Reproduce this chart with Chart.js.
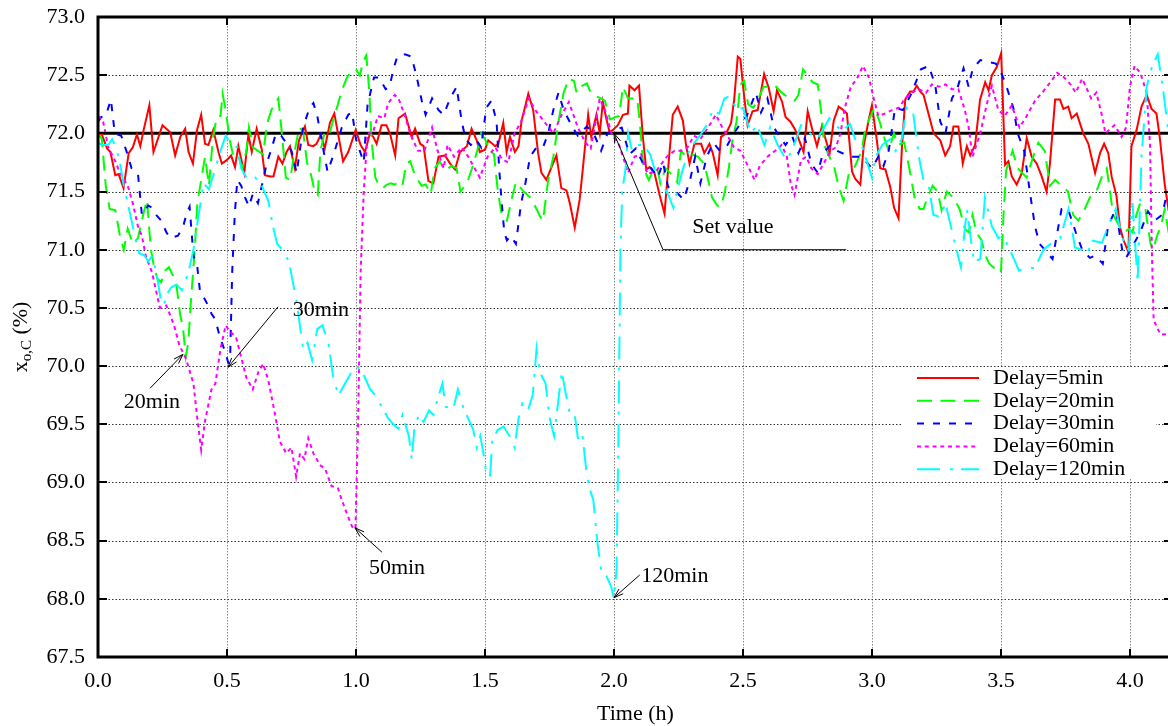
<!DOCTYPE html>
<html>
<head>
<meta charset="utf-8">
<script src="https://cdn.jsdelivr.net/npm/chart.js@4.4.0/dist/chart.umd.min.js"></script>
<style>
  html, body { margin: 0; padding: 0; background: #fff; overflow: hidden; }
  canvas { display: block; }
</style>
</head>
<body>
<canvas id="chart" width="1173" height="726"></canvas>
<script>
// Axis ticks
const xTickValues = [0.0, 0.5, 1.0, 1.5, 2.0, 2.5, 3.0, 3.5, 4.0];
const xTickLabels = ['0.0', '0.5', '1.0', '1.5', '2.0', '2.5', '3.0', '3.5', '4.0'];
const yTickValues = [67.5, 68.0, 68.5, 69.0, 69.5, 70.0, 70.5, 71.0, 71.5, 72.0, 72.5, 73.0];
const yTickLabels = ['67.5', '68.0', '68.5', '69.0', '69.5', '70.0', '70.5', '71.0', '71.5', '72.0', '72.5', '73.0'];

const seriesNames = ['Delay=5min', 'Delay=20min', 'Delay=30min', 'Delay=60min', 'Delay=120min'];
const setValue = 72.0;

// [time (h), x_o,C (%)]
const delay5 = [
[0.000,72.00],[0.015,71.99],[0.035,71.87],[0.048,71.84],[0.067,71.64],[0.080,71.65],[0.099,71.53],[0.119,71.83],[0.135,71.88],[0.151,71.99],[0.164,71.89],[0.177,72.03],[0.199,72.24],[0.215,71.84],[0.250,72.07],[0.280,72.01],[0.299,71.81],[0.319,71.97],[0.338,72.04],[0.351,71.84],[0.368,71.74],[0.384,72.03],[0.400,72.16],[0.415,71.91],[0.428,71.90],[0.447,72.03],[0.467,71.84],[0.480,71.74],[0.499,71.77],[0.516,71.81],[0.531,71.71],[0.544,71.89],[0.567,71.66],[0.583,71.99],[0.596,71.84],[0.615,72.04],[0.634,71.87],[0.647,71.64],[0.667,71.63],[0.680,71.63],[0.699,71.80],[0.715,71.74],[0.731,71.84],[0.744,71.89],[0.763,71.70],[0.779,71.94],[0.802,72.06],[0.815,71.90],[0.834,71.89],[0.847,71.91],[0.864,71.99],[0.879,71.87],[0.899,72.09],[0.916,72.17],[0.931,71.99],[0.950,71.76],[0.970,71.84],[0.999,72.03],[1.018,71.90],[1.035,71.84],[1.054,72.00],[1.067,71.97],[1.080,71.91],[1.099,72.07],[1.118,72.07],[1.133,71.99],[1.152,71.81],[1.165,72.13],[1.190,72.17],[1.216,71.97],[1.229,72.04],[1.249,71.91],[1.262,71.89],[1.281,71.59],[1.300,71.57],[1.320,71.80],[1.345,71.81],[1.365,71.74],[1.384,71.69],[1.403,71.84],[1.430,71.89],[1.448,72.04],[1.468,71.94],[1.480,71.84],[1.500,71.86],[1.513,71.94],[1.540,71.89],[1.552,71.91],[1.571,72.09],[1.584,71.84],[1.597,71.97],[1.616,71.84],[1.630,71.89],[1.642,72.11],[1.668,72.34],[1.687,72.20],[1.706,71.83],[1.719,71.66],[1.738,71.60],[1.758,71.71],[1.777,71.81],[1.796,71.53],[1.816,71.51],[1.829,71.40],[1.848,71.19],[1.867,71.43],[1.880,71.71],[1.900,72.16],[1.912,71.97],[1.932,72.16],[1.945,72.00],[1.957,72.27],[1.970,72.13],[1.983,72.01],[1.996,72.03],[2.015,72.07],[2.035,72.16],[2.054,72.17],[2.060,72.41],[2.080,72.37],[2.097,72.41],[2.112,71.97],[2.125,71.69],[2.138,71.71],[2.157,71.66],[2.177,71.47],[2.196,71.31],[2.215,71.83],[2.228,72.16],[2.247,72.23],[2.267,72.11],[2.280,71.89],[2.293,71.74],[2.312,71.91],[2.338,71.91],[2.350,71.83],[2.370,71.91],[2.383,71.83],[2.402,71.64],[2.415,71.97],[2.435,72.00],[2.454,72.09],[2.466,72.29],[2.480,72.66],[2.490,72.64],[2.505,72.31],[2.518,72.07],[2.537,72.19],[2.557,72.20],[2.582,72.51],[2.600,72.39],[2.619,72.19],[2.632,72.37],[2.652,72.27],[2.665,72.14],[2.684,72.10],[2.703,72.03],[2.723,71.91],[2.735,71.84],[2.751,72.19],[2.768,72.04],[2.787,71.89],[2.806,72.06],[2.819,71.96],[2.836,71.83],[2.852,72.11],[2.871,72.23],[2.884,72.21],[2.903,72.17],[2.923,71.67],[2.935,71.61],[2.955,71.56],[2.968,71.89],[2.987,72.11],[3.000,72.24],[3.019,71.94],[3.032,71.70],[3.052,71.69],[3.071,71.54],[3.086,71.36],[3.103,71.27],[3.116,71.87],[3.129,72.29],[3.148,72.36],[3.161,72.36],[3.174,72.41],[3.187,72.36],[3.200,72.33],[3.219,72.17],[3.239,72.00],[3.265,71.94],[3.284,71.81],[3.303,71.89],[3.316,72.06],[3.335,72.06],[3.352,71.74],[3.368,71.89],[3.381,71.81],[3.400,71.90],[3.419,72.29],[3.439,72.44],[3.452,72.37],[3.465,72.50],[3.484,72.57],[3.501,72.69],[3.516,71.73],[3.529,71.76],[3.542,71.63],[3.561,71.56],[3.581,71.66],[3.600,71.96],[3.619,71.80],[3.639,71.74],[3.658,71.63],[3.677,71.50],[3.690,71.74],[3.710,72.29],[3.729,72.29],[3.742,72.21],[3.761,72.23],[3.774,72.13],[3.794,72.17],[3.819,72.00],[3.839,71.91],[3.865,71.66],[3.884,71.83],[3.900,71.91],[3.916,71.83],[3.929,71.63],[3.948,71.46],[3.961,71.20],[3.974,71.09],[3.994,70.98],[4.006,71.89],[4.026,72.03],[4.045,72.23],[4.065,72.33],[4.084,72.21],[4.103,72.17],[4.116,71.96],[4.135,71.56],[4.150,71.34],[4.167,71.25]
];

const delay20 = [
[0.000,72.00],[0.015,71.95],[0.030,71.55],[0.045,71.35],[0.067,71.34],[0.085,71.12],[0.100,71.00],[0.115,71.18],[0.135,71.05],[0.155,71.10],[0.175,71.30],[0.190,71.43],[0.205,71.00],[0.215,70.88],[0.230,70.75],[0.245,70.72],[0.260,70.82],[0.275,70.85],[0.290,70.78],[0.305,70.68],[0.318,70.45],[0.330,70.32],[0.340,70.08],[0.350,70.20],[0.360,70.55],[0.375,71.00],[0.385,71.40],[0.400,71.60],[0.415,71.80],[0.430,71.55],[0.445,71.95],[0.460,72.14],[0.475,72.15],[0.483,72.34],[0.495,72.20],[0.510,71.95],[0.525,71.80],[0.545,71.80],[0.560,71.70],[0.575,71.85],[0.585,72.05],[0.600,71.88],[0.620,71.85],[0.640,71.82],[0.655,72.08],[0.672,72.20],[0.690,72.27],[0.699,72.30],[0.715,71.95],[0.728,71.62],[0.745,71.60],[0.760,71.82],[0.780,72.05],[0.795,72.02],[0.810,71.75],[0.825,71.65],[0.840,71.50],[0.852,71.47],[0.862,71.85],[0.878,72.00],[0.895,71.98],[0.915,72.14],[0.930,72.25],[0.945,72.37],[0.965,72.48],[0.985,72.54],[1.000,72.55],[1.015,72.50],[1.028,72.62],[1.040,72.67],[1.052,72.35],[1.060,71.95],[1.075,71.62],[1.090,71.55],[1.105,71.53],[1.120,71.56],[1.135,71.57],[1.150,71.56],[1.165,71.58],[1.180,71.55],[1.195,71.74],[1.210,71.76],[1.230,71.63],[1.255,71.55],[1.270,71.56],[1.290,71.48],[1.305,71.70],[1.325,71.76],[1.345,71.68],[1.370,71.72],[1.390,71.70],[1.405,71.50],[1.430,71.57],[1.450,71.70],[1.470,71.85],[1.485,72.00],[1.500,71.95],[1.520,71.85],[1.535,71.82],[1.550,71.50],[1.565,71.30],[1.585,71.25],[1.605,71.45],[1.620,71.58],[1.650,71.50],[1.675,71.45],[1.700,71.35],[1.715,71.28],[1.725,71.25],[1.745,71.60],[1.765,71.80],[1.785,72.10],[1.805,72.35],[1.825,72.47],[1.845,72.45],[1.855,72.35],[1.870,72.40],[1.895,72.43],[1.910,72.35],[1.930,72.32],[1.950,72.30],[1.965,72.28],[1.985,72.12],[2.005,72.14],[2.020,72.15],[2.035,72.40],[2.055,72.30],[2.075,72.30],[2.090,72.30],[2.100,72.10],[2.115,71.70],[2.135,71.60],[2.155,71.70],[2.170,71.68],[2.180,71.57],[2.200,71.70],[2.230,71.63],[2.245,71.58],[2.260,71.85],[2.280,71.80],[2.300,71.82],[2.325,71.80],[2.345,71.75],[2.360,71.65],[2.380,71.45],[2.400,71.38],[2.415,71.37],[2.430,71.50],[2.445,71.70],[2.460,71.95],[2.475,72.10],[2.490,72.42],[2.505,72.45],[2.520,72.25],[2.540,72.22],[2.560,72.30],[2.580,72.40],[2.600,72.40],[2.625,72.41],[2.650,72.35],[2.680,72.30],[2.700,72.28],[2.715,72.33],[2.733,72.55],[2.750,72.50],[2.770,72.44],[2.790,72.42],[2.805,72.15],[2.815,71.90],[2.835,71.80],[2.855,71.70],[2.870,71.55],[2.890,71.42],[2.910,71.65],[2.935,71.72],[2.960,71.85],[2.975,72.05],[2.995,72.15],[3.010,72.22],[3.030,72.10],[3.045,71.98],[3.065,71.85],[3.085,72.00],[3.100,71.90],[3.125,71.92],[3.145,71.70],[3.165,71.45],[3.185,71.35],[3.200,71.35],[3.215,71.45],[3.235,71.55],[3.255,71.50],[3.270,71.34],[3.290,71.50],[3.315,71.45],[3.340,71.35],[3.360,71.18],[3.375,71.15],[3.390,71.30],[3.405,71.15],[3.425,71.08],[3.440,70.95],[3.455,70.88],[3.470,70.85],[3.490,70.82],[3.500,70.80],[3.510,71.30],[3.520,71.68],[3.545,71.85],[3.565,71.70],[3.600,71.62],[3.625,71.80],[3.645,71.92],[3.670,71.85],[3.690,71.55],[3.710,71.60],[3.735,71.55],[3.760,71.50],[3.780,71.30],[3.800,71.25],[3.825,71.35],[3.845,71.45],[3.870,71.50],[3.895,71.65],[3.910,71.70],[3.920,71.55],[3.935,71.30],[3.960,71.20],[3.980,71.15],[3.995,71.18],[4.010,71.15],[4.025,71.30],[4.040,71.40],[4.060,71.35],[4.080,71.05],[4.090,71.00],[4.105,71.12],[4.120,71.20],[4.135,71.35],[4.150,71.15],[4.167,71.10]
];

const delay30 = [
[0.000,72.10],[0.012,72.14],[0.030,72.15],[0.050,72.29],[0.065,72.00],[0.090,71.98],[0.110,71.85],[0.130,71.70],[0.155,71.65],[0.170,71.30],[0.195,71.38],[0.210,71.36],[0.225,71.30],[0.245,71.25],[0.265,71.15],[0.280,71.10],[0.310,71.12],[0.330,71.20],[0.345,71.32],[0.355,71.37],[0.370,70.95],[0.385,70.85],[0.395,70.65],[0.420,70.55],[0.440,70.45],[0.455,70.40],[0.470,70.27],[0.490,70.14],[0.505,70.03],[0.512,70.05],[0.520,70.80],[0.530,71.30],[0.540,71.60],[0.555,71.55],[0.570,71.45],[0.585,71.37],[0.600,71.48],[0.620,71.40],[0.635,71.55],[0.655,71.75],[0.670,71.85],[0.690,72.00],[0.710,71.98],[0.735,71.90],[0.750,71.85],[0.770,71.66],[0.795,72.05],[0.820,72.22],[0.835,72.26],[0.850,72.15],[0.870,71.90],[0.890,71.67],[0.915,71.83],[0.945,72.05],[0.970,72.16],[0.985,72.18],[1.000,71.95],[1.015,71.85],[1.030,71.75],[1.045,72.25],[1.070,72.48],[1.090,72.48],[1.115,72.38],[1.130,72.40],[1.145,72.55],[1.160,72.66],[1.190,72.68],[1.215,72.66],[1.235,72.49],[1.255,72.28],[1.270,72.16],[1.295,72.30],[1.320,72.20],[1.340,72.16],[1.365,72.30],[1.390,72.40],[1.410,72.10],[1.425,71.95],[1.445,71.90],[1.465,71.95],[1.485,71.88],[1.505,72.22],[1.525,72.28],[1.545,72.10],[1.555,71.70],[1.565,71.40],[1.575,71.15],[1.585,71.08],[1.600,71.12],[1.620,71.05],[1.640,71.40],[1.655,71.55],[1.675,71.80],[1.700,71.88],[1.725,71.88],[1.745,72.00],[1.765,72.20],[1.785,72.35],[1.805,72.20],[1.840,72.05],[1.860,71.98],[1.895,72.06],[1.925,71.98],[1.950,71.85],[1.975,72.00],[1.995,72.02],[2.030,72.05],[2.060,71.82],[2.085,71.87],[2.115,71.73],[2.145,71.70],[2.170,71.62],[2.190,71.75],[2.210,71.54],[2.240,71.50],[2.270,71.43],[2.295,71.60],[2.315,71.80],[2.335,71.57],[2.360,71.80],[2.385,71.92],[2.410,71.85],[2.440,71.90],[2.465,72.00],[2.495,72.10],[2.515,72.15],[2.550,72.35],[2.570,72.18],[2.595,72.30],[2.620,72.05],[2.640,71.98],[2.665,71.90],[2.690,71.98],[2.715,71.83],[2.740,71.96],[2.765,71.74],[2.790,71.66],[2.810,71.83],[2.840,71.90],[2.865,71.85],[2.895,71.82],[2.925,71.80],[2.960,71.80],[3.000,71.70],[3.025,71.80],[3.045,71.72],[3.065,71.85],[3.090,72.22],[3.120,72.20],[3.150,72.33],[3.190,72.55],[3.220,72.58],[3.245,72.42],[3.265,72.10],[3.285,72.00],[3.310,72.30],[3.330,72.38],[3.355,72.56],[3.375,72.40],[3.390,72.55],[3.420,72.63],[3.460,72.61],[3.480,72.60],[3.505,72.50],[3.522,72.40],[3.548,72.22],[3.565,72.00],[3.590,71.85],[3.612,71.50],[3.632,71.20],[3.650,71.05],[3.670,71.00],[3.700,70.92],[3.735,71.35],[3.760,71.35],[3.790,71.15],[3.815,71.00],[3.845,70.93],[3.865,70.95],[3.895,70.88],[3.915,71.20],[3.945,71.35],[3.970,71.00],[3.985,70.93],[4.040,71.15],[4.070,71.33],[4.095,71.25],[4.125,71.30],[4.140,71.45],[4.167,71.55]
];

const delay60 = [
[0.000,72.15],[0.020,72.10],[0.040,71.88],[0.065,71.77],[0.085,71.66],[0.115,71.55],[0.135,71.40],[0.155,71.20],[0.170,71.12],[0.185,70.95],[0.210,70.80],[0.240,70.50],[0.265,70.52],[0.295,70.35],[0.315,70.18],[0.340,70.07],[0.370,69.85],[0.385,69.55],[0.400,69.28],[0.415,69.53],[0.440,69.80],[0.455,69.85],[0.475,70.15],[0.495,70.35],[0.510,70.30],[0.535,70.25],[0.558,70.05],[0.575,69.90],[0.600,69.80],[0.622,69.95],[0.640,70.02],[0.660,69.88],[0.685,69.60],[0.705,69.35],[0.730,69.25],[0.750,69.30],[0.768,69.05],[0.783,69.25],[0.800,69.20],[0.815,69.38],[0.835,69.25],[0.860,69.15],[0.880,69.12],[0.905,68.97],[0.930,68.95],[0.945,68.85],[0.965,68.73],[0.985,68.62],[0.998,68.60],[1.008,69.50],[1.018,70.80],[1.030,71.50],[1.045,72.00],[1.065,72.00],[1.085,72.15],[1.110,72.13],[1.125,72.26],[1.150,72.33],[1.165,72.30],[1.190,72.15],[1.210,72.00],[1.240,71.85],[1.265,71.85],[1.295,72.05],[1.315,71.86],[1.340,71.70],[1.355,71.90],[1.380,71.80],[1.410,71.88],[1.435,71.80],[1.455,71.72],[1.480,71.62],[1.510,71.80],[1.540,71.88],[1.565,71.78],[1.590,71.75],[1.615,72.00],[1.640,72.10],[1.670,72.30],[1.695,72.20],[1.730,72.10],[1.765,72.00],[1.795,72.15],[1.825,72.27],[1.860,72.05],[1.890,71.92],[1.910,71.87],[1.945,72.30],[1.965,72.20],[1.990,72.00],[2.020,71.90],[2.055,71.66],[2.080,71.80],[2.105,71.82],[2.130,71.65],[2.165,71.68],[2.205,71.80],[2.235,71.85],[2.260,71.85],[2.285,71.88],[2.310,71.98],[2.335,71.95],[2.365,72.05],[2.395,72.16],[2.420,72.05],[2.440,71.98],[2.465,71.88],[2.490,71.85],[2.515,71.74],[2.545,71.60],[2.565,71.72],[2.595,71.80],[2.625,71.85],[2.650,71.90],[2.670,71.80],[2.685,71.57],[2.700,71.47],[2.725,71.77],[2.745,71.80],[2.765,71.70],[2.790,71.65],[2.815,71.75],[2.840,71.85],[2.860,71.88],[2.878,72.00],[2.895,72.22],[2.918,72.40],[2.942,72.47],[2.965,72.58],[2.988,72.48],[3.007,72.30],[3.025,72.15],[3.050,72.17],[3.078,72.20],[3.105,72.22],[3.128,72.30],[3.155,72.35],[3.182,72.38],[3.210,72.35],[3.232,72.42],[3.260,72.40],[3.285,72.42],[3.310,72.38],[3.335,72.38],[3.360,72.20],[3.375,72.05],[3.390,71.80],[3.420,72.00],[3.445,72.25],[3.465,72.41],[3.490,72.20],[3.515,72.15],[3.542,72.24],[3.572,72.05],[3.600,72.15],[3.632,72.28],[3.660,72.35],[3.692,72.44],[3.718,72.52],[3.745,72.48],[3.770,72.42],[3.790,72.35],[3.815,72.47],[3.850,72.30],[3.870,72.35],[3.892,72.15],[3.905,72.00],[3.940,72.07],[3.968,71.97],[3.985,72.05],[4.000,72.40],[4.018,72.58],[4.040,72.52],[4.065,72.35],[4.078,71.90],[4.085,71.00],[4.092,70.40],[4.105,70.33],[4.120,70.27],[4.167,70.28]
];

const delay120 = [
[0.000,71.92],[0.015,71.90],[0.040,71.90],[0.055,71.95],[0.070,71.88],[0.085,71.75],[0.100,71.55],[0.115,71.40],[0.130,71.25],[0.145,71.10],[0.160,70.97],[0.180,70.95],[0.195,70.90],[0.210,70.95],[0.228,70.78],[0.245,70.55],[0.255,70.52],[0.268,70.62],[0.285,70.68],[0.305,70.70],[0.325,70.65],[0.350,70.80],[0.370,71.00],[0.390,71.30],[0.410,71.57],[0.430,71.52],[0.455,71.70],[0.475,71.85],[0.495,71.98],[0.520,71.90],[0.540,71.88],[0.555,71.70],[0.580,71.60],[0.610,71.62],[0.635,71.55],[0.660,71.42],[0.678,71.20],[0.695,71.05],[0.715,71.00],[0.740,70.90],[0.770,70.55],[0.795,70.15],[0.812,70.20],[0.830,70.05],[0.850,70.32],[0.870,70.35],[0.893,70.20],[0.912,69.90],[0.932,69.75],[0.950,69.82],[0.975,69.92],[0.995,70.00],[1.015,69.98],[1.035,69.90],[1.055,69.80],[1.075,69.75],[1.100,69.65],[1.125,69.55],[1.145,69.50],[1.165,69.46],[1.180,69.58],[1.205,69.40],[1.216,69.20],[1.228,69.50],[1.245,69.58],[1.262,69.52],[1.283,69.62],[1.300,69.58],[1.318,69.73],[1.335,69.85],[1.348,69.65],[1.378,69.64],[1.395,69.80],[1.415,69.65],[1.435,69.55],[1.455,69.45],[1.468,69.30],[1.482,69.40],[1.498,69.20],[1.505,69.07],[1.520,69.06],[1.528,69.35],[1.548,69.45],[1.572,69.48],[1.595,69.40],[1.615,69.30],[1.630,69.55],[1.645,69.68],[1.668,69.63],[1.685,69.75],[1.700,70.15],[1.712,69.95],[1.735,69.85],[1.750,69.56],[1.768,69.40],[1.785,69.72],[1.798,69.95],[1.810,69.80],[1.828,69.60],[1.848,69.58],[1.862,69.35],[1.878,69.40],[1.893,69.10],[1.905,68.95],[1.920,68.85],[1.935,68.50],[1.950,68.25],[1.970,68.20],[1.990,68.10],[2.000,68.00],[2.010,68.25],[2.018,69.50],[2.025,71.00],[2.032,71.50],[2.045,71.70],[2.055,72.00],[2.070,71.85],[2.090,71.90],[2.115,71.90],[2.140,71.82],[2.162,71.66],[2.188,71.57],[2.215,71.45],[2.230,71.36],[2.250,71.55],[2.268,71.70],[2.295,71.87],[2.333,71.98],[2.362,72.08],[2.383,72.20],[2.408,72.17],[2.428,72.30],[2.450,72.32],[2.478,72.20],[2.500,72.22],[2.530,72.00],[2.555,72.07],[2.583,71.90],[2.605,72.05],[2.635,71.90],[2.668,71.77],[2.690,71.85],[2.725,72.07],[2.760,72.00],[2.790,71.96],[2.815,72.05],[2.835,72.13],[2.860,72.07],[2.885,72.02],[2.915,72.08],[2.935,71.95],[2.960,71.90],[3.000,71.62],[3.015,71.80],[3.040,71.90],[3.070,71.95],[3.092,71.85],[3.115,71.95],[3.135,72.22],[3.160,72.17],[3.182,71.80],[3.202,71.57],[3.220,71.55],[3.238,71.30],[3.265,71.28],[3.285,71.40],[3.322,71.05],[3.345,70.85],[3.368,71.35],[3.395,70.90],[3.420,70.92],[3.438,71.45],[3.465,71.20],[3.490,71.10],[3.508,71.12],[3.535,71.00],[3.570,70.82],[3.600,70.85],[3.630,70.84],[3.665,71.00],[3.692,71.05],[3.730,71.10],[3.762,71.35],[3.787,71.02],[3.812,71.00],[3.835,70.96],[3.852,71.08],[3.892,71.06],[3.915,71.20],[3.945,71.35],[3.970,71.10],[3.995,71.00],[4.010,71.40],[4.030,70.72],[4.045,71.80],[4.065,72.40],[4.085,72.57],[4.108,72.68],[4.130,72.35],[4.150,72.00],[4.167,71.90]
];

// Chart geometry: 0.0 h sits on the left frame, 258 px per hour
const X_MIN = 0, X_MAX = 4.167;
const Y_MIN = 67.5, Y_MAX = 73.0;
const SERIF = "'Liberation Serif', 'Times New Roman', serif";

const styles = [
  { color: '#ff0000', dash: [] },
  { color: '#00ff00', dash: [15, 8.5] },
  { color: '#0000ff', dash: [7, 9] },
  { color: '#ff00ff', dash: [4, 3.75] },
  { color: '#00ffff', dash: [23, 10, 3, 8] }
];
const seriesData = [delay5, delay20, delay30, delay60, delay120];

const datasets = seriesData.map((arr, i) => ({
  label: seriesNames[i],
  data: arr.map(p => ({ x: p[0], y: p[1] })),
  borderColor: styles[i].color,
  borderWidth: 2,
  borderDash: styles[i].dash,
  pointRadius: 0,
  tension: 0,
  fill: false,
  order: 5 - i
}));
datasets.push({
  label: 'Set value',
  data: [{ x: X_MIN, y: setValue }, { x: X_MAX, y: setValue }],
  borderColor: '#000',
  borderWidth: 3,
  pointRadius: 0,
  fill: false,
  order: 10
});

function dottedLine(ctx, x1, y1, x2, y2, color, dash) {
  ctx.save();
  ctx.strokeStyle = color;
  ctx.lineWidth = 1;
  ctx.setLineDash(dash);
  ctx.beginPath();
  ctx.moveTo(x1, y1);
  ctx.lineTo(x2, y2);
  ctx.stroke();
  ctx.restore();
}

function arrow(ctx, x1, y1, x2, y2) {
  // line from (x1,y1) to the tip (x2,y2) with an open head
  const ang = Math.atan2(y2 - y1, x2 - x1);
  const L = 10, spread = 0.32;
  ctx.beginPath();
  ctx.moveTo(x1, y1);
  ctx.lineTo(x2, y2);
  ctx.moveTo(x2 - L * Math.cos(ang - spread), y2 - L * Math.sin(ang - spread));
  ctx.lineTo(x2, y2);
  ctx.lineTo(x2 - L * Math.cos(ang + spread), y2 - L * Math.sin(ang + spread));
  ctx.stroke();
}

// Labelled arrows, in data coordinates: text centre, arrow start, arrow tip
const callouts = [
  { text: '20min',  tx: 0.209, ty: 69.69, from: [0.202, 69.81], tip: [0.329, 70.10] },
  { text: '30min',  tx: 0.864, ty: 70.48, from: [0.698, 70.51], tip: [0.504, 69.99] },
  { text: '50min',  tx: 1.159, ty: 68.265, from: [1.101, 68.40], tip: [0.996, 68.61] },
  { text: '120min', tx: 2.236, ty: 68.19, from: [2.100, 68.205], tip: [2.000, 68.01] }
];

const LEGEND_BOX = { x: 903, y: 367, w: 253, h: 112 };

const decorPlugin = {
  id: 'decor',
  beforeDatasetsDraw(chart) {
    const { ctx, chartArea: a, scales: { x, y } } = chart;
    // dotted grid
    xTickValues.forEach(v => {
      const px = Math.round(x.getPixelForValue(v)) + 0.5;
      if (px <= a.left + 2 || px >= a.right - 2) return;
      dottedLine(ctx, px, a.top, px, a.bottom, '#8a8a8a', [1.5, 1.5]);
    });
    yTickValues.forEach(v => {
      const py = Math.round(y.getPixelForValue(v)) + 0.5;
      if (py <= a.top + 2 || py >= a.bottom - 2) return;
      dottedLine(ctx, a.left, py, a.right, py, '#333', [1.5, 2]);
    });
    // legend background
    ctx.save();
    ctx.fillStyle = '#fff';
    ctx.fillRect(LEGEND_BOX.x, LEGEND_BOX.y, LEGEND_BOX.w, LEGEND_BOX.h);
    ctx.restore();
  },
  afterDatasetsDraw(chart) {
    const { ctx, chartArea: a, scales: { x, y } } = chart;
    ctx.save();
    // frame
    ctx.strokeStyle = '#000';
    ctx.lineWidth = 3;
    ctx.strokeRect(a.left, a.top, a.right - a.left, a.bottom - a.top);
    // inward tick marks on all four sides
    ctx.lineWidth = 2;
    ctx.beginPath();
    xTickValues.forEach(v => {
      const px = Math.round(x.getPixelForValue(v));
      ctx.moveTo(px, a.bottom); ctx.lineTo(px, a.bottom - 8);
      ctx.moveTo(px, a.top); ctx.lineTo(px, a.top + 8);
    });
    yTickValues.forEach(v => {
      const py = Math.round(y.getPixelForValue(v));
      ctx.moveTo(a.left, py); ctx.lineTo(a.left + 9, py);
      ctx.moveTo(a.right, py); ctx.lineTo(a.right - 9, py);
    });
    ctx.stroke();

    // annotations
    ctx.strokeStyle = '#000';
    ctx.lineWidth = 1;
    ctx.fillStyle = '#000';
    ctx.font = '22px ' + SERIF;
    ctx.textAlign = 'center';
    ctx.textBaseline = 'middle';
    callouts.forEach(c => {
      arrow(ctx, x.getPixelForValue(c.from[0]), y.getPixelForValue(c.from[1]),
                 x.getPixelForValue(c.tip[0]), y.getPixelForValue(c.tip[1]));
      ctx.fillText(c.text, x.getPixelForValue(c.tx), y.getPixelForValue(c.ty));
    });
    // set value leader
    const ex = x.getPixelForValue(2.19), ey = y.getPixelForValue(71.0);
    arrow(ctx, ex, ey, x.getPixelForValue(2.0), y.getPixelForValue(setValue));
    ctx.beginPath();
    ctx.moveTo(ex, ey);
    ctx.lineTo(x.getPixelForValue(2.9), ey);
    ctx.stroke();
    ctx.fillText('Set value', x.getPixelForValue(2.461), y.getPixelForValue(71.195));

    // legend
    ctx.textAlign = 'left';
    seriesNames.forEach((name, i) => {
      const ly = 378 + i * 22.8;
      ctx.save();
      ctx.strokeStyle = styles[i].color;
      ctx.lineWidth = 2;
      ctx.setLineDash(styles[i].dash);
      ctx.beginPath();
      ctx.moveTo(917, ly);
      ctx.lineTo(979, ly);
      ctx.stroke();
      ctx.restore();
      ctx.fillText(name, 993, ly);
    });

    // axis titles
    ctx.textAlign = 'center';
    ctx.fillText('Time (h)', (a.left + a.right) / 2, 714);

    ctx.translate(21, (a.top + a.bottom) / 2);
    ctx.rotate(-Math.PI / 2);
    const big = '22px ' + SERIF, small = '15px ' + SERIF;
    ctx.font = big; const w1 = ctx.measureText('x').width;
    ctx.font = small; const w2 = ctx.measureText('o,C').width;
    ctx.font = big; const w3 = ctx.measureText(' (%)').width;
    let cx = -(w1 + w2 + w3) / 2;
    ctx.textAlign = 'left';
    ctx.font = big; ctx.fillText('x', cx, 0); cx += w1;
    ctx.font = small; ctx.fillText('o,C', cx, 6); cx += w2;
    ctx.font = big; ctx.fillText(' (%)', cx, 0);
    ctx.restore();
  }
};

new Chart(document.getElementById('chart'), {
  type: 'line',
  data: { datasets },
  options: {
    responsive: false,
    animation: false,
    devicePixelRatio: 1,
    layout: { padding: { top: 17, right: 0, bottom: 0, left: 0 } },
    plugins: { legend: { display: false }, tooltip: { enabled: false } },
    scales: {
      x: {
        type: 'linear',
        min: X_MIN, max: X_MAX,
        afterBuildTicks: s => { s.ticks = xTickValues.map(v => ({ value: v })); },
        afterFit: s => { s.height = 69; s.paddingLeft = 0; s.paddingRight = 0; },
        ticks: {
          autoSkip: false, maxRotation: 0, padding: 11, color: '#000',
          font: { family: SERIF, size: 22 },
          callback: (v, i) => xTickLabels[i]
        },
        grid: { display: false, drawTicks: false },
        border: { display: false }
      },
      y: {
        type: 'linear',
        min: Y_MIN, max: Y_MAX,
        afterBuildTicks: s => { s.ticks = yTickValues.map(v => ({ value: v })); },
        afterFit: s => { s.width = 98; s.paddingTop = 0; s.paddingBottom = 0; },
        ticks: {
          autoSkip: false, padding: 13, color: '#000',
          font: { family: SERIF, size: 22 },
          callback: (v, i) => yTickLabels[i]
        },
        grid: { display: false, drawTicks: false },
        border: { display: false }
      }
    }
  },
  plugins: [decorPlugin]
});
</script>
</body>
</html>
